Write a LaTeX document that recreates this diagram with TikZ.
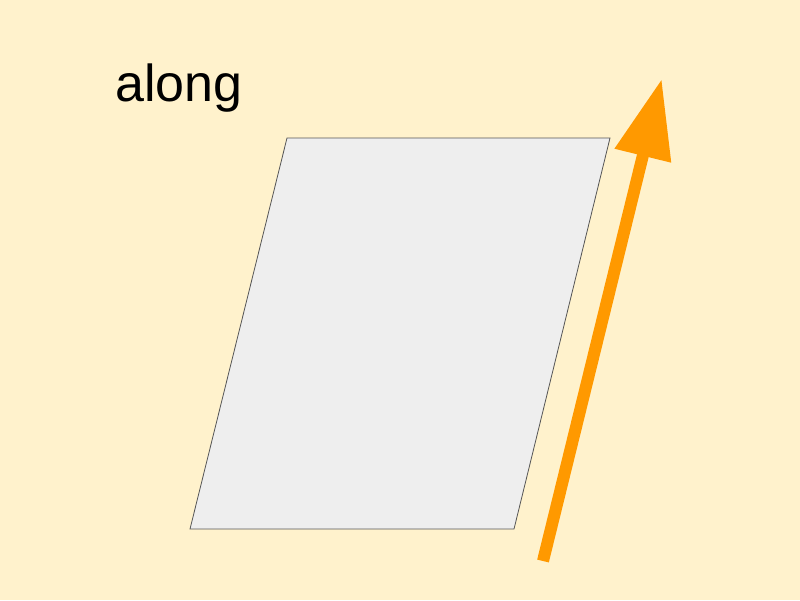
\documentclass[tikz,border=0pt]{standalone}
\usepackage{fontspec}
\setmainfont{Liberation Sans}
\usetikzlibrary{arrows.meta}
\definecolor{bg}{HTML}{FFF2CC}
\definecolor{panel}{HTML}{EEEEEE}
\definecolor{edge}{HTML}{555555}
\definecolor{arroworange}{HTML}{FF9900}
\begin{document}
\begin{tikzpicture}[x=1pt,y=-1pt,
  panelstyle/.style={fill=panel,draw=edge,line width=0.8pt},
  bigarrow/.style={draw=arroworange,line width=12pt,-{Triangle[length=79pt,width=55pt]}},
  labelstyle/.style={inner sep=0pt,anchor=base west,font=\fontsize{52}{62}\selectfont}]
\fill[bg] (0,0) rectangle (800,600);
\useasboundingbox (0,0) rectangle (800,600);
\node[labelstyle] (lbl) at (115,101.5) {along};
\draw[panelstyle] (287,138) -- (610,138) -- (514,529) -- (190,529) -- cycle;
\coordinate (tail) at (543,561);
\coordinate (tip) at (661.7,79);
\draw[bigarrow] (tail) -- (tip);
\end{tikzpicture}
\end{document}
